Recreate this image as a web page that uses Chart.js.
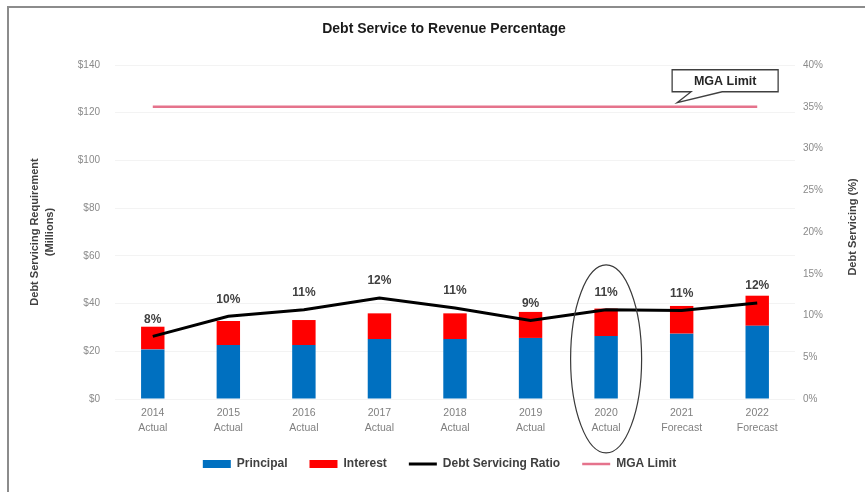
<!DOCTYPE html>
<html>
<head>
<meta charset="utf-8">
<script src="https://cdn.jsdelivr.net/npm/chart.js@4.4.1/dist/chart.umd.min.js"></script>
<style>
  html,body{margin:0;padding:0;background:#fff;}
  #wrap{position:relative;width:865px;height:492px;overflow:hidden;}
  #frame{position:absolute;left:7px;top:6px;width:900px;height:600px;border-left:2px solid #8c8c8c;border-top:2px solid #8c8c8c;pointer-events:none;}
  canvas{position:absolute;left:0;top:0;}
</style>
</head>
<body>
<div id="wrap">
<canvas id="c" width="865" height="492"></canvas>
<div id="frame"></div>
</div>
<script>
const years = ['2014','2015','2016','2017','2018','2019','2020','2021','2022'];
const periods = ['Actual','Actual','Actual','Actual','Actual','Actual','Actual','Forecast','Forecast'];
const principal = [20.8, 22.6, 22.6, 25.1, 25.1, 25.6, 26.4, 27.4, 30.7];
const interest  = [9.5, 10.1, 10.5, 10.8, 10.8, 10.9, 11.5, 11.6, 12.6];
const ratio     = [7.5, 9.9, 10.7, 12.1, 10.9, 9.4, 10.7, 10.6, 11.5];
const mgaLimit  = [35, 35, 35, 35, 35, 35, 35, 35, 35];
const ratioLabels = ['8%','10%','11%','12%','11%','9%','11%','11%','12%'];
const leftTicks = ['$0','$20','$40','$60','$80','$100','$120','$140'];
const rightTicks = ['0%','5%','10%','15%','20%','25%','30%','35%','40%'];
const titleText = 'Debt Service to Revenue Percentage';
const leftTitle = ['Debt Servicing Requirement','(Millions)'];
const rightTitle = 'Debt Servicing (%)';
const calloutText = 'MGA Limit';
const highlightIndex = 6;

const labels = years.map((y,i)=>[y, periods[i]]);
const FONT = "'Liberation Sans', Arial, sans-serif";

const decor = {
  id:'decor',
  afterDraw(chart){
    const ctx = chart.ctx;
    const x = chart.scales.x, y = chart.scales.y, y1 = chart.scales.y1;
    const ca = chart.chartArea;
    ctx.save();
    // title
    ctx.fillStyle = '#1a1a1a';
    ctx.font = 'bold 14px ' + FONT;
    ctx.textAlign = 'center'; ctx.textBaseline = 'middle';
    ctx.fillText(titleText, 444, 29);
    // axis titles
    ctx.fillStyle = '#404040';
    ctx.font = 'bold 11px ' + FONT;
    const cy = (ca.top + ca.bottom)/2;
    ctx.save(); ctx.translate(35, cy); ctx.rotate(-Math.PI/2);
    ctx.fillText(leftTitle[0], 0, 0); ctx.restore();
    ctx.save(); ctx.translate(50, cy); ctx.rotate(-Math.PI/2);
    ctx.fillText(leftTitle[1], 0, 0); ctx.restore();
    ctx.save(); ctx.translate(853, cy - 5); ctx.rotate(-Math.PI/2);
    ctx.fillText(rightTitle, 0, 0); ctx.restore();
    // data labels
    ctx.font = 'bold 12px ' + FONT;
    ctx.fillStyle = '#404040';
    ratio.forEach((v,i)=>{
      const px = x.getPixelForValue(i);
      const py = y1.getPixelForValue(v);
      ctx.fillText(ratioLabels[i], px, py - 17);
    });
    // ellipse around highlighted year
    const step = x.getPixelForValue(1) - x.getPixelForValue(0);
    const ex = x.getPixelForValue(highlightIndex);
    const eTop = y.getPixelForValue(56.2), eBot = y.getPixelForValue(-22.6);
    ctx.beginPath();
    ctx.ellipse(ex, (eTop+eBot)/2, step*0.47, (eBot-eTop)/2, 0, 0, Math.PI*2);
    ctx.strokeStyle = '#3a3a3a'; ctx.lineWidth = 1.2; ctx.stroke();
    // callout
    const tx = x.getPixelForValue(6.94), ty = y1.getPixelForValue(35) - 4;
    const bl = tx - 5, br = tx + 101, bt = ty - 33, bb = ty - 11;
    ctx.beginPath();
    ctx.moveTo(bl, bt); ctx.lineTo(br, bt); ctx.lineTo(br, bb);
    ctx.lineTo(tx + 45, bb); ctx.lineTo(tx, ty); ctx.lineTo(tx + 14, bb);
    ctx.lineTo(bl, bb); ctx.closePath();
    ctx.fillStyle = '#fff'; ctx.fill();
    ctx.strokeStyle = '#404040'; ctx.lineWidth = 1.3; ctx.stroke();
    ctx.fillStyle = '#262626';
    ctx.font = 'bold 12.5px ' + FONT;
    ctx.fillText(calloutText, (bl+br)/2, (bt+bb)/2 + 1);
    ctx.restore();
  }
};

new Chart(document.getElementById('c'), {
  data: {
    labels,
    datasets: [
      {type:'line', label:'Debt Servicing Ratio', data: ratio, yAxisID:'y1', borderColor:'#000', backgroundColor:'#000', borderWidth:3, pointRadius:0, tension:0, order:1, pointStyle:'line'},
      {type:'line', label:'MGA Limit', data: mgaLimit, yAxisID:'y1', borderColor:'#E5738C', backgroundColor:'#F2A7B7', borderWidth:2.5, pointRadius:0, order:2, pointStyle:'line'},
      {type:'bar', label:'Principal', data: principal, yAxisID:'y', backgroundColor:'#0070C0', stack:'s', order:3, pointStyle:'rect'},
      {type:'bar', label:'Interest', data: interest, yAxisID:'y', backgroundColor:'#FF0000', stack:'s', order:4, pointStyle:'rect'}
    ]
  },
  options: {
    responsive:false, animation:false,
    layout:{padding:{top:65, left:14, right:0, bottom:12}},
    datasets:{bar:{categoryPercentage:1, barPercentage:0.31}},
    plugins:{
      title:{display:false},
      tooltip:{enabled:false},
      legend:{
        position:'bottom',
        labels:{
          usePointStyle:true, pointStyleWidth:28, boxHeight:8,
          color:'#404040', font:{family:FONT, size:12, weight:'bold'}, padding:22,
          sort:(a,b)=>{const o=['Principal','Interest','Debt Servicing Ratio','MGA Limit']; return o.indexOf(a.text)-o.indexOf(b.text);}
        }
      }
    },
    scales:{
      x:{
        stacked:true,
        grid:{display:false, drawTicks:false},
        border:{display:false},
        ticks:{color:'#7f7f7f', font:{family:FONT, size:10.5, lineHeight:1.4}, padding:7, maxRotation:0},
        afterFit(s){ s.height = 37; }
      },
      y:{
        stacked:true, position:'left', min:0, max:140,
        grid:{color:'#f3f3f3', drawTicks:false},
        border:{display:false},
        ticks:{stepSize:20, color:'#8a8a8a', font:{family:FONT, size:10}, padding:15,
          callback:(v,i)=>leftTicks[i]},
        afterFit(s){ s.width = 101; }
      },
      y1:{
        position:'right', min:0, max:40,
        grid:{display:false, drawTicks:false},
        border:{display:false},
        ticks:{stepSize:5, color:'#8a8a8a', font:{family:FONT, size:10}, padding:8,
          callback:(v,i)=>rightTicks[i]},
        afterFit(s){ s.width = 70; }
      }
    }
  },
  plugins:[decor]
});
</script>
</body>
</html>
